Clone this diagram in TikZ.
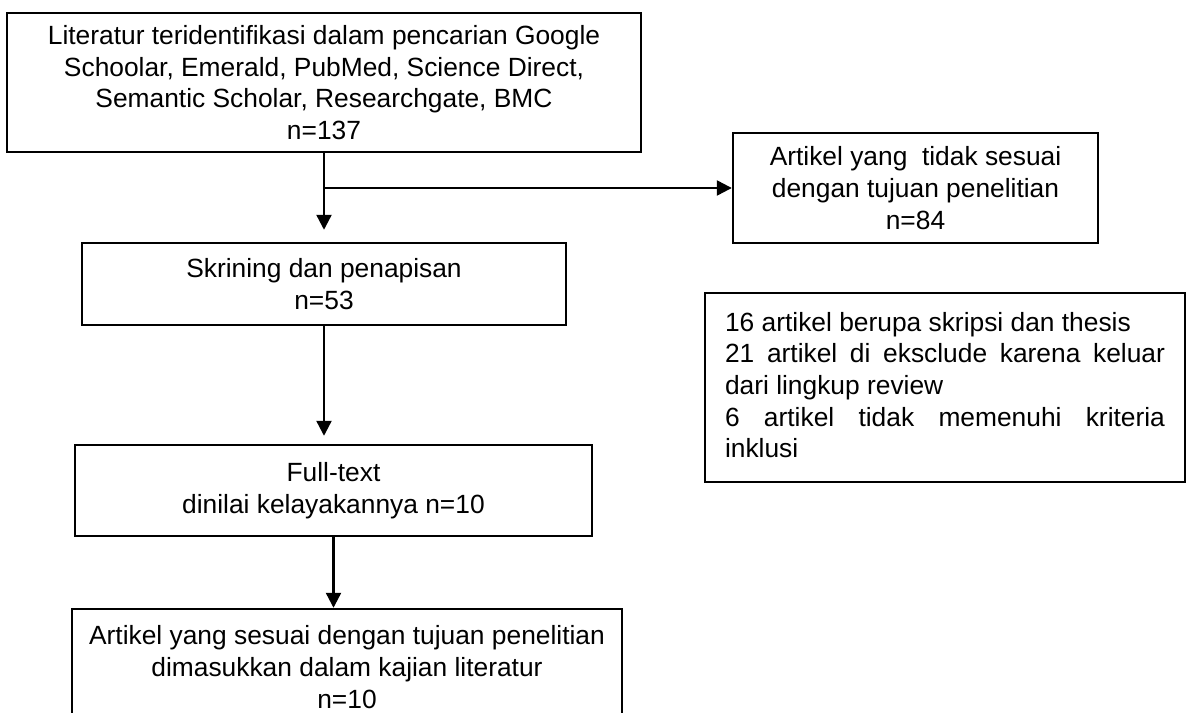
\documentclass[tikz,border=0pt]{standalone}
\usepackage{fontspec}
\setmainfont{Liberation Sans}
\usetikzlibrary{arrows.meta}

\begin{document}
\begin{tikzpicture}[x=0.02cm, y=-0.02cm,
  box/.style={draw, line width=1.4pt, align=center, inner sep=0pt,
    font=\fontsize{15}{18}\selectfont},
  flow/.style={line width=1.3pt, -{Triangle[length=3mm, width=3mm]}}]
  \useasboundingbox (0,0) rectangle (1187,713);
  % Main column of steps.
  \node[box, minimum width=12.68cm, minimum height=2.78cm] (lit) at (324,82.5)
    {Literatur teridentifikasi dalam pencarian Google\\
     Schoolar, Emerald, PubMed, Science Direct,\\
     Semantic Scholar, Researchgate, BMC\\n=137};
  \node[box, minimum width=9.68cm, minimum height=1.64cm] (screen) at (324,284)
    {Skrining dan penapisan\\n=53};
  \node[box, minimum width=10.34cm, minimum height=1.82cm] (full) at (333.5,490.5)
    {Full-text\\dinilai kelayakannya n=10};
  % Last box runs off the bottom of the page.
  \node[box, minimum width=11cm, minimum height=2.32cm] (incl) at (347,667)
    {Artikel yang sesuai dengan tujuan penelitian\\
     dimasukkan dalam kajian literatur\\n=10};
  % Excluded records on the right.
  \node[box, minimum width=7.3cm, minimum height=2.2cm] (excl) at (915.5,188)
    {Artikel yang~ tidak sesuai\\dengan tujuan penelitian\\n=84};
  \node[box, align=justify, text width=8.8cm, inner xsep=0.4cm,
    minimum height=3.78cm] (reason) at (945,387.5)
    {\hyphenpenalty=10000\tolerance=10000
     16 artikel berupa skripsi dan thesis\\
     21 artikel di eksclude karena keluar dari lingkup review\\
     6 artikel tidak memenuhi kriteria inklusi\vspace{0.1cm}};
  % Arrows.
  \draw[flow, shorten >=0.24cm] (lit.south) -- (screen.north);
  \draw[flow] (lit.south |- excl.west) -- (excl.west);
  \draw[flow, shorten >=0.16cm] (screen.south) -- (screen.south |- full.north);
  \draw[flow] (full.south) -- (full.south |- incl.north);
\end{tikzpicture}
\end{document}
